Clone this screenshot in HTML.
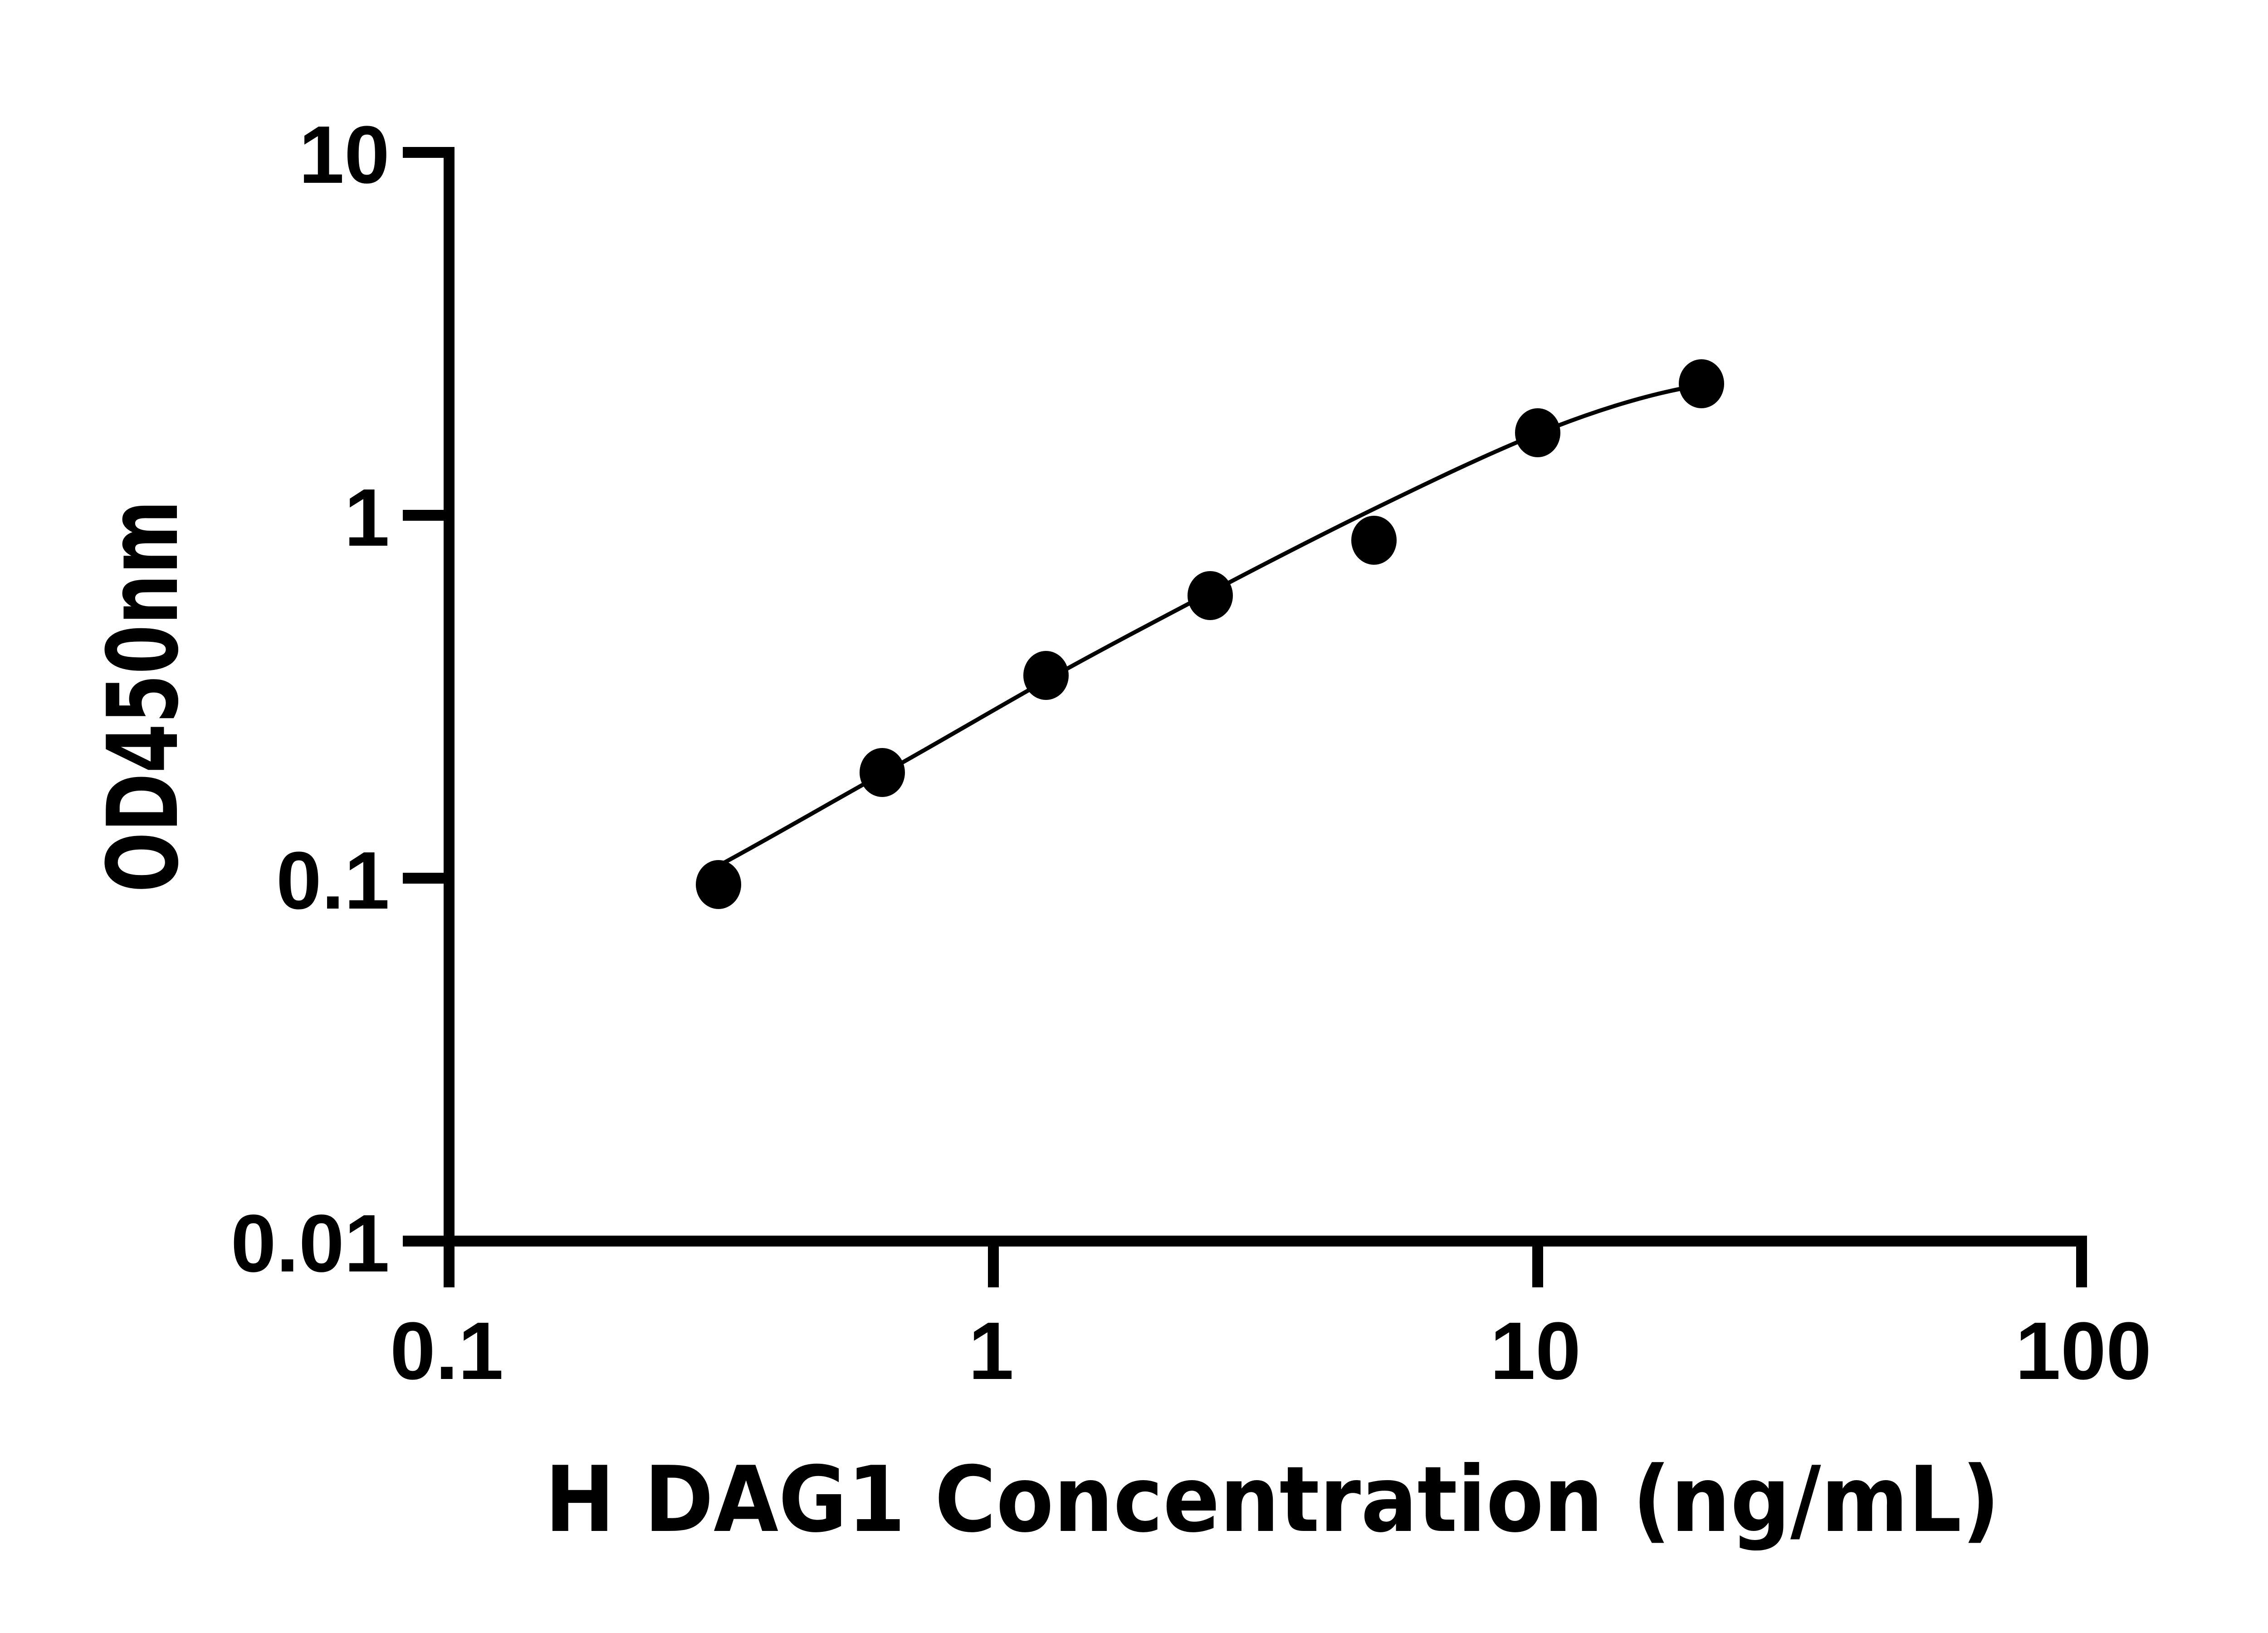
<!DOCTYPE html>
<html><head><meta charset="utf-8"><style>
html,body{margin:0;padding:0;background:#fff}svg{display:block}
.tk{font-family:Arial,"Liberation Sans",Helvetica,sans-serif;font-weight:700;font-size:180px}
.tt{font-family:"DejaVu Sans","Liberation Sans",sans-serif;font-weight:700}
</style></head>
<body>
<svg width="5142" height="3600" viewBox="0 0 5142 3600" xmlns="http://www.w3.org/2000/svg">
<rect width="5142" height="3600" fill="#fff"/>
<g stroke="#000" stroke-width="24" fill="none" stroke-linecap="butt">
<path d="M990 324 V2736"/>
<path d="M978 2736 H4601"/>
<path d="M888 336 H990"/>
<path d="M888 1136 H990"/>
<path d="M888 1936 H990"/>
<path d="M888 2736 H990"/>
<path d="M990 2736 V2838"/>
<path d="M2190 2736 V2838"/>
<path d="M3390 2736 V2838"/>
<path d="M4589 2724 V2838"/>
</g>
<path d="M1596 1902 C1710 1840 1830 1770 1945 1706 S2190 1565 2306 1500 S2550 1368 2668 1306 S2910 1180 3029 1122 S3270 1005 3390 956 S3640 866 3751 849" stroke="#000" stroke-width="9" fill="none"/>
<g fill="#000">
<ellipse cx="1584" cy="1950" rx="50" ry="54"/>
<ellipse cx="1945" cy="1703" rx="50" ry="54"/>
<ellipse cx="2306" cy="1489" rx="50" ry="54"/>
<ellipse cx="2668" cy="1313" rx="50" ry="54"/>
<ellipse cx="3029" cy="1191" rx="50" ry="54"/>
<ellipse cx="3390" cy="954" rx="50" ry="54"/>
<ellipse cx="3751" cy="846" rx="50" ry="54"/>
</g>
<g class="tk" fill="#000">
<text x="859" y="403" text-anchor="end">10</text>
<text x="859" y="1203" text-anchor="end">1</text>
<text x="859" y="2003" text-anchor="end">0.1</text>
<text x="859" y="2803" text-anchor="end">0.01</text>
<text x="985" y="3040" text-anchor="middle">0.1</text>
<text x="2185" y="3040" text-anchor="middle">1</text>
<text x="3385" y="3040" text-anchor="middle">10</text>
<text x="4593" y="3040" text-anchor="middle">100</text>
</g>
<text class="tt" x="1201" y="3375" font-size="200" textLength="3208" lengthAdjust="spacingAndGlyphs" fill="#000">H DAG1 Concentration (ng/mL)</text>
<text class="tt" transform="translate(390 1535) rotate(-90)" text-anchor="middle" font-size="215" textLength="865" lengthAdjust="spacingAndGlyphs" fill="#000">OD450nm</text>
</svg>
</body></html>
